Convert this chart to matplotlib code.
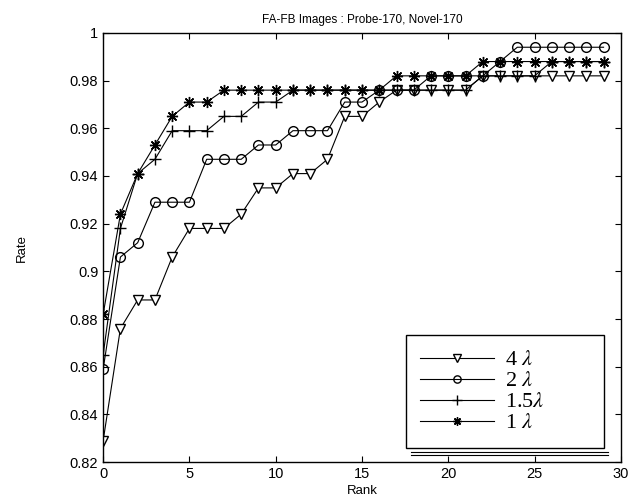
import matplotlib
matplotlib.use("Agg")
import matplotlib.pyplot as plt
from matplotlib.lines import Line2D
import numpy as np

plt.rcParams['font.family'] = ['Liberation Sans', 'DejaVu Sans']
plt.rcParams['mathtext.fontset'] = 'stix'

ranks = list(range(30))
rate_4 = [0.829, 0.876, 0.888, 0.888, 0.906, 0.918, 0.918, 0.918, 0.924, 0.935,
          0.935, 0.941, 0.941, 0.947, 0.965, 0.965, 0.971, 0.976, 0.976, 0.976,
          0.976, 0.976, 0.982, 0.982, 0.982, 0.982, 0.982, 0.982, 0.982, 0.982]
rate_2 = [0.859, 0.906, 0.912, 0.929, 0.929, 0.929, 0.947, 0.947, 0.947, 0.953,
          0.953, 0.959, 0.959, 0.959, 0.971, 0.971, 0.976, 0.976, 0.976, 0.982,
          0.982, 0.982, 0.982, 0.988, 0.994, 0.994, 0.994, 0.994, 0.994, 0.994]
rate_15 = [0.865, 0.918, 0.941, 0.947, 0.959, 0.959, 0.959, 0.965, 0.965, 0.971,
           0.971, 0.976, 0.976, 0.976, 0.976, 0.976, 0.976, 0.976, 0.976, 0.976,
           0.976, 0.976, 0.982, 0.982, 0.982, 0.982, 0.988, 0.988, 0.988, 0.988]
rate_1 = [0.882, 0.924, 0.941, 0.953, 0.965, 0.971, 0.971, 0.976, 0.976, 0.976,
          0.976, 0.976, 0.976, 0.976, 0.976, 0.976, 0.976, 0.982, 0.982, 0.982,
          0.982, 0.982, 0.988, 0.988, 0.988, 0.988, 0.988, 0.988, 0.988, 0.988]
labels = [r'4 $\lambda$', r'2 $\lambda$', r'1.5$\lambda$', r'1 $\lambda$']
xticks = [0, 5, 10, 15, 20, 25, 30]
yticks = [0.82, 0.84, 0.86, 0.88, 0.9, 0.92, 0.94, 0.96, 0.98, 1]
ytick_labels = ['0.82', '0.84', '0.86', '0.88', '0.9', '0.92', '0.94', '0.96', '0.98', '1']

fig = plt.figure(figsize=(6.29, 4.99), dpi=100)
ax = fig.add_axes([0.164, 0.074, 0.823, 0.860])

kw = dict(color='black', linewidth=0.8)
ax.plot(ranks, rate_4, marker='v', markersize=7, markerfacecolor='white',
        markeredgecolor='black', label=labels[0], **kw)
ax.plot(ranks, rate_2, marker='o', markersize=7, markerfacecolor='none',
        markeredgecolor='black', label=labels[1], **kw)
ax.plot(ranks, rate_15, marker='+', markersize=9, markeredgewidth=1.0,
        label=labels[2], **kw)
ax.plot(ranks, rate_1, marker=(8, 2, 0), markersize=8, markeredgewidth=1.0,
        label=labels[3], **kw)

ax.set_xlim(0, 30)
ax.set_ylim(0.82, 1.0)
ax.set_xticks(xticks)
ax.set_yticks(yticks)
ax.set_yticklabels(ytick_labels)
ax.tick_params(direction='in', top=True, right=True, labelsize=10.5, length=4, width=0.8)
for s in ax.spines.values():
    s.set_linewidth(1.0)

ax.set_xlabel('Rank', fontsize=9.5, labelpad=3)
ax.set_ylabel('Rate', fontsize=9.5, labelpad=30)
ax.set_title('FA-FB Images : Probe-170, Novel-170', fontsize=8.5, pad=7)

leg_labels = [lab + '         ' for lab in labels]
handles, _ = ax.get_legend_handles_labels()
leg = ax.legend(handles, leg_labels, loc='lower right',
                bbox_to_anchor=(0.967, 0.033), frameon=True,
                fancybox=False, edgecolor='black', framealpha=1,
                prop={'family': 'Liberation Serif', 'size': 16},
                handlelength=3.3, labelspacing=0.02, borderpad=0.65,
                handletextpad=0.5, borderaxespad=0, markerscale=0.75)
leg.get_frame().set_linewidth(1.0)

fig.canvas.draw()
bb = leg.get_window_extent().transformed(ax.transAxes.inverted())
for dy in (0.009, 0.017):
    ax.add_line(Line2D([bb.x0 + 0.01, bb.x1 + 0.008], [bb.y0 - dy, bb.y0 - dy],
                       transform=ax.transAxes, color='black', linewidth=0.8,
                       clip_on=False))

fig.savefig('out.png', dpi=100)
